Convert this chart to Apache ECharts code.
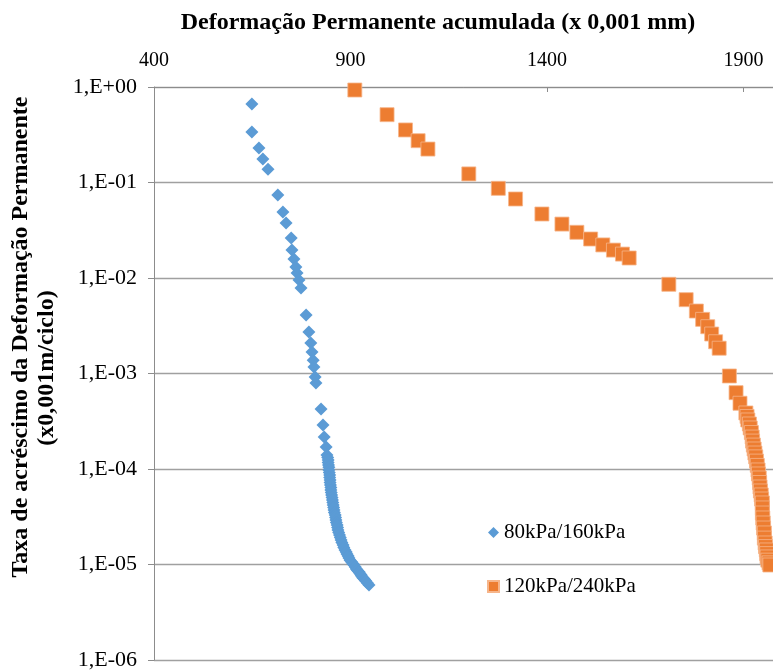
<!DOCTYPE html>
<html>
<head>
<meta charset="utf-8">
<script src="https://cdn.jsdelivr.net/npm/echarts@6/dist/echarts.min.js"></script>
<style>html,body{margin:0;padding:0;background:#fff}#c{width:773px;height:671px}</style>
</head>
<body>
<div id="c"></div>
<script>
const seriesNames = ['80kPa/160kPa', '120kPa/240kPa'];
const xTicks = [400, 900, 1400, 1900];
const yTicks = [1e-6, 1e-5, 1e-4, 1e-3, 1e-2, 1e-1, 1];

const blueX = [649, 649, 667, 677, 690, 715, 728, 736, 749, 751, 756, 761, 764, 769, 774,
  787, 794, 799, 802, 805, 807, 810, 812, 825, 830, 833, 838, 840,
  842, 843, 843, 844, 845, 845, 846, 847, 847, 848, 848, 849, 850, 850, 851, 852, 853, 854, 855, 856, 857, 858, 859, 861, 862, 863, 864, 866, 867, 868,
  870, 872, 874, 876, 878, 881, 883, 886, 889, 891, 894, 896, 899, 903, 906, 909, 912, 915, 918, 922, 924, 927, 929, 932, 936, 939, 943, 947];
const blueY = [0.664, 0.338, 0.230, 0.176, 0.138, 0.074, 0.049, 0.0377, 0.0262, 0.0196, 0.0158, 0.0130, 0.0113, 0.00953, 0.00786,
  0.0041, 0.00272, 0.00209, 0.00168, 0.00138, 0.00117, 0.000918, 0.000796, 0.000425, 0.000289, 0.000216, 0.000170, 0.000140,
  1.32e-4, 1.24e-4, 1.17e-4, 1.10e-4, 1.04e-4, 9.77e-5, 9.19e-5, 8.66e-5, 8.15e-5, 7.67e-5, 7.22e-5, 6.80e-5, 6.40e-5, 6.03e-5, 5.68e-5, 5.34e-5, 5.03e-5, 4.73e-5, 4.46e-5, 4.20e-5, 3.95e-5, 3.72e-5, 3.50e-5, 3.30e-5, 3.10e-5, 2.92e-5, 2.75e-5, 2.59e-5, 2.44e-5, 2.30e-5,
  2.16e-5, 2.04e-5, 1.92e-5, 1.81e-5, 1.70e-5, 1.60e-5, 1.51e-5, 1.42e-5, 1.35e-5, 1.29e-5, 1.23e-5, 1.17e-5, 1.11e-5, 1.06e-5, 1.02e-5, 9.88e-6, 9.41e-6, 8.97e-6, 8.65e-6, 8.34e-6, 8.05e-6, 7.76e-6, 7.49e-6, 7.22e-6, 6.96e-6, 6.72e-6, 6.40e-6, 6.10e-6];

const orangeX = [911, 993, 1040, 1072, 1097, 1201, 1276, 1320, 1387, 1438, 1476, 1511, 1542, 1569, 1592, 1609,
  1710, 1754, 1780, 1796, 1809, 1819, 1829, 1838, 1864, 1881, 1891, 1906,
  1909, 1911, 1915, 1917, 1920, 1922, 1923, 1925, 1927, 1929, 1931, 1933, 1935, 1937, 1938, 1940, 1941, 1942, 1943, 1945, 1946, 1948, 1948,
  1948, 1949, 1950, 1951, 1953, 1953, 1955, 1956, 1958, 1959, 1960, 1962, 1965, 1967];
const orangeY = [0.93, 0.513, 0.355, 0.274, 0.224, 0.123, 0.0869, 0.0672, 0.0468, 0.0367, 0.0301, 0.0256, 0.0222, 0.0196, 0.0178, 0.0162,
  0.00859, 0.00593, 0.00451, 0.00369, 0.00309, 0.00259, 0.00215, 0.00184, 0.000942, 0.000630, 0.000488, 0.000386,
  3.55e-4, 3.26e-4, 2.96e-4, 2.69e-4, 2.41e-4, 2.16e-4, 1.96e-4, 1.78e-4, 1.62e-4, 1.47e-4, 1.34e-4, 1.21e-4, 1.09e-4, 9.77e-5, 8.87e-5, 8.05e-5, 7.22e-5, 6.48e-5, 5.89e-5, 5.35e-5, 4.85e-5, 4.41e-5, 3.91e-5,
  3.46e-5, 3.07e-5, 2.72e-5, 2.41e-5, 2.14e-5, 1.89e-5, 1.68e-5, 1.54e-5, 1.42e-5, 1.30e-5, 1.20e-5, 1.11e-5, 1.04e-5, 9.88e-6];

const FONT = '"Liberation Serif", "Times New Roman", serif';
const zip = (a, b) => a.map((v, i) => [v, b[i]]);

const chart = echarts.init(document.getElementById('c'));
chart.setOption({
  animation: false,
  backgroundColor: '#fff',
  title: {
    text: 'Deformação Permanente acumulada (x 0,001 mm)',
    left: 433, top: 6, textAlign: 'center',
    textStyle: { fontFamily: FONT, fontSize: 24, fontWeight: 'bold', color: '#000' }
  },
  graphic: [
    { type: 'text', x: 21, y: 337, rotation: Math.PI / 2,
      style: { text: 'Taxa de acréscimo da Deformação Permanente', font: 'bold 24px ' + FONT, fill: '#000', align: 'center', verticalAlign: 'middle' } },
    { type: 'text', x: 47, y: 368, rotation: Math.PI / 2,
      style: { text: '(x0,001m/ciclo)', font: 'bold 24px ' + FONT, fill: '#000', align: 'center', verticalAlign: 'middle' } }
  ],
  legend: {
    orient: 'vertical', left: 482, top: 517, itemGap: 33,
    itemWidth: 11, itemHeight: 11,
    textStyle: { fontFamily: FONT, fontSize: 21, color: '#000' },
    data: [{ name: seriesNames[0], icon: 'diamond' }, { name: seriesNames[1], icon: 'rect' }]
  },
  grid: { left: 154, top: 87, right: 0, bottom: 11 },
  xAxis: {
    type: 'value', position: 'top', min: 400, max: 1975, interval: 500,
    axisLine: { show: true, lineStyle: { color: '#8c8c8c', width: 1 } },
    axisTick: { show: true, inside: true, length: 5, lineStyle: { color: '#8c8c8c' } },
    splitLine: { show: false },
    axisLabel: { margin: 16, fontFamily: FONT, fontSize: 20, color: '#000', showMaxLabel: false,
      formatter: v => xTicks.indexOf(v) >= 0 ? String(v) : '' }
  },
  yAxis: {
    type: 'log', logBase: 10, min: yTicks[0], max: yTicks[yTicks.length - 1], interval: 1,
    axisLine: { show: true, lineStyle: { color: '#8c8c8c', width: 1 } },
    axisTick: { show: true, inside: false, length: 6, lineStyle: { color: '#8c8c8c' } },
    splitLine: { show: true, lineStyle: { color: '#a0a0a0', width: 1.3 } },
    axisLabel: { margin: 17, fontFamily: FONT, fontSize: 22, color: '#000',
      formatter: v => { const e = Math.round(Math.log10(v)); return '1,E' + (e >= 0 ? '+' : '-') + String(Math.abs(e)).padStart(2, '0'); } }
  },
  series: [
    { name: seriesNames[0], type: 'scatter', symbol: 'diamond', symbolSize: 13,
      itemStyle: { color: '#5B9BD5', opacity: 1 }, data: zip(blueX, blueY) },
    { name: seriesNames[1], type: 'scatter', symbol: 'rect', symbolSize: 14,
      itemStyle: { color: '#ED7D31', opacity: 1, borderColor: '#F6B58A', borderWidth: 0.8 }, data: zip(orangeX, orangeY) }
  ]
});
</script>
</body>
</html>
